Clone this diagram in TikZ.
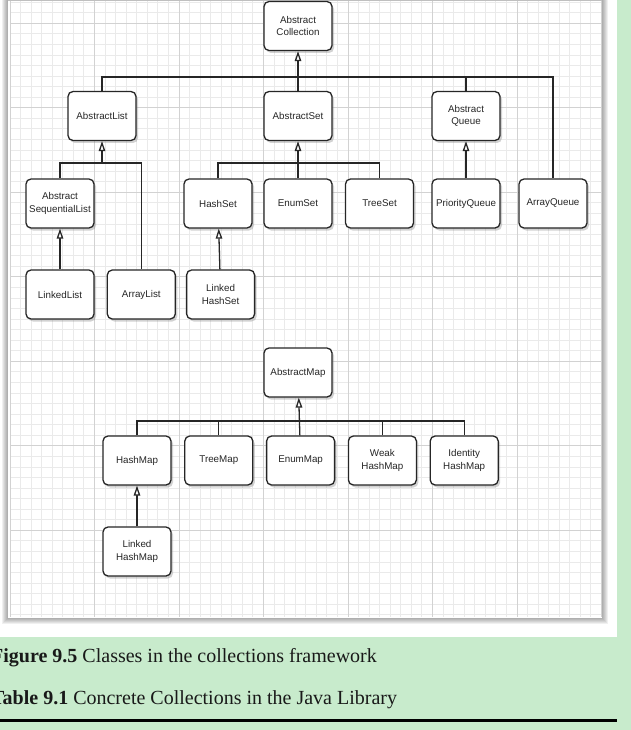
\documentclass[tikz,border=0pt]{standalone}
\usepackage{fontspec}
\setmainfont{Liberation Serif}
\newfontfamily\boxfont{Liberation Sans}
\usetikzlibrary{positioning,arrows.meta,shadows}
\definecolor{pagegreen}{RGB}{200,235,204}
\definecolor{minorline}{RGB}{234,234,234}
\definecolor{majorline}{RGB}{210,210,210}

\begin{document}
\begin{tikzpicture}[x=1pt,y=-1pt,
  cls/.style={draw=black!85,line width=1.3pt,rounded corners=5pt,fill=white,
    minimum width=68pt,minimum height=49pt,inner xsep=2pt,align=center,
    text=black!85,font=\boxfont\fontsize{9.8}{12.5}\selectfont,
    drop shadow={shadow xshift=2pt,shadow yshift=-2.5pt,opacity=0.35}},
  isa/.style={line width=1.3pt,black!85,-{Triangle[length=10pt,width=6.5pt,fill=white]}},
  link/.style={line width=1.3pt,black!85}]
\useasboundingbox (0,0) rectangle (631,730);
\fill[pagegreen] (0,0) rectangle (631,730);
\fill[white] (0,0) rectangle (617,637);

% graph paper
\foreach \k in {1,...,6}
  \fill[black,opacity=0.06] ({8-\k},0) rectangle ({602+\k},{618+\k});
\fill[white] (8,0) rectangle (602,618);
\draw[gray!50] (8,0.5) -- (602,0.5);
\foreach \i in {0,...,56}
  \draw[minorline,line width=0.9pt] ({10+\i*10.5625},1) -- ({10+\i*10.5625},617);
\foreach \j in {0,...,58}
  \draw[minorline,line width=0.9pt] (10,{2.2+\j*10.5625}) -- (601.5,{2.2+\j*10.5625});
\foreach \i in {0,...,7}
  \draw[majorline,line width=0.9pt] ({10+\i*84.5},1) -- ({10+\i*84.5},617);
\foreach \j in {0,...,6}
  \draw[majorline,line width=0.9pt] (10,{23.3+\j*84.5}) -- (601.5,{23.3+\j*84.5});

% collections
\node[cls] (coll) at (298,26) {Abstract\\Collection};

\node[cls] (alist) at (102,116) {AbstractList};
\node[cls] (aset) at (298,116) {AbstractSet};
\node[cls] (aqueue) at (466,116) {Abstract\\Queue};

\node[cls] (aseq) at (60,203.5) {Abstract\\SequentialList};
\node[cls] (hset) at (218,203.5) {HashSet};
\node[cls] (eset) at (298,203.5) {EnumSet};
\node[cls] (tset) at (379.5,203.5) {TreeSet};
\node[cls] (pqueue) at (466,203.5) {PriorityQueue};
\node[cls] (arrayq) at (553,203.5) {ArrayQueue};

\node[cls] (llist) at (60,294.5) {LinkedList};
\node[cls,right=12pt of llist] (arraylist) {ArrayList};
\node[cls,right=10pt of arraylist] (lhset) {Linked\\HashSet};

\coordinate (collbus) at (298,77);
\draw[isa] (collbus) -- (coll);
\draw[link] (alist) |- (collbus) -| (arrayq);
\draw[link] (aset) -- (collbus);
\draw[link] (aqueue) -- (aqueue |- collbus);

\coordinate (listbus) at (102,163);
\draw[isa] (listbus) -- (alist);
\draw[link] (aseq) |- (listbus) -| (arraylist);
\draw[isa] (llist) -- (aseq);

\coordinate (setbus) at (298,163);
\draw[isa] (eset) -- (aset);
\draw[link] (hset) |- (setbus) -| (tset);
\draw[isa] (lhset) -- (hset);

\draw[isa] (pqueue) -- (aqueue);

% maps
\node[cls] (amap) at (298,372.5) {AbstractMap};

\node[cls] (hmap) at (137,460.5) {HashMap};
\node[cls,right=12.5pt of hmap] (tmap) {TreeMap};
\node[cls,right=12.5pt of tmap] (emap) {EnumMap};
\node[cls,right=12.5pt of emap] (whmap) {Weak\\HashMap};
\node[cls,right=12.5pt of whmap] (ihmap) {Identity\\HashMap};

\node[cls] (lhmap) at (137,551.5) {Linked\\HashMap};

\coordinate (mapbus) at (298,421);
\draw[isa] (emap) -- (amap);
\draw[link] (hmap) |- (mapbus) -| (ihmap);
\draw[link] (tmap) -- (tmap |- mapbus);
\draw[link] (whmap) -- (whmap |- mapbus);
\draw[isa] (lhmap) -- (hmap);

% captions
\node[anchor=base west,inner sep=0pt,text=black!90,font=\fontsize{20}{24}\selectfont] (fig) at (-9,662) {\textbf{Figure 9.5} Classes in the collections framework};
\node[anchor=base west,inner sep=0pt,text=black!90,font=\fontsize{20}{24}\selectfont] (tab) at (-9,704) {\textbf{Table 9.1} Concrete Collections in the Java Library};
\draw[line width=2.5pt] (0,720.5) -- (617,720.5);
\end{tikzpicture}
\end{document}
